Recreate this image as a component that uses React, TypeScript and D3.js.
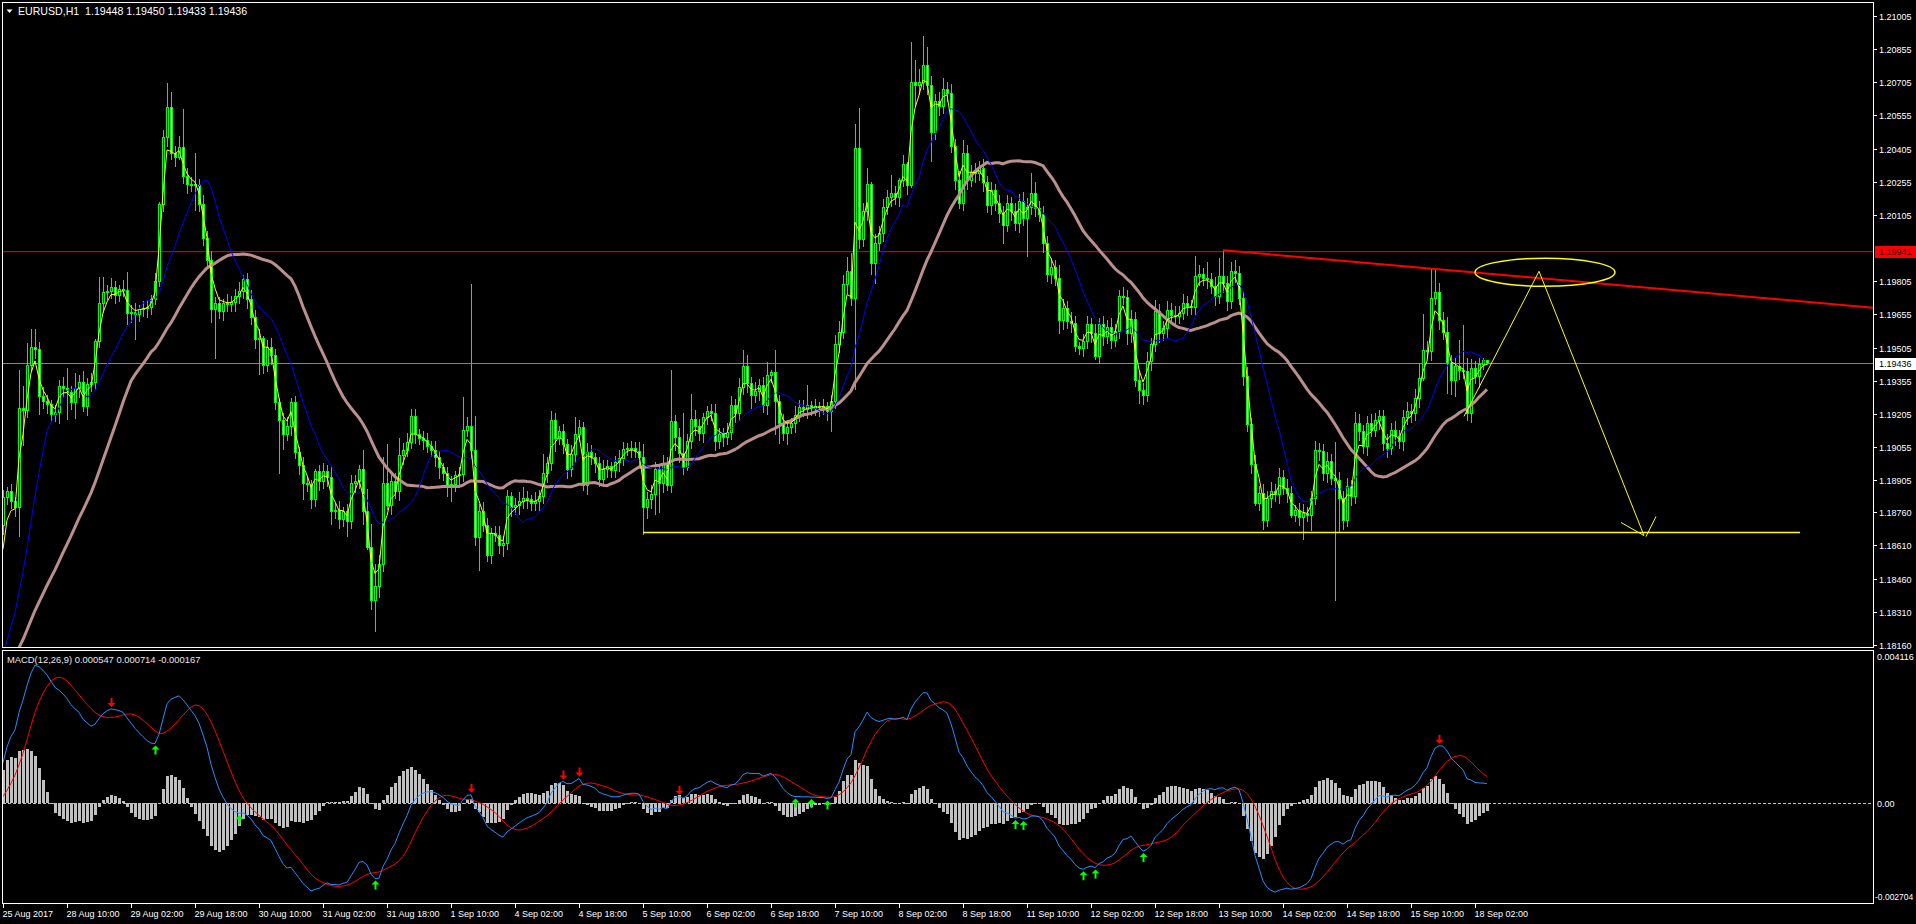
import React from 'react';
import * as d3 from 'd3';

const W = 1916;
const H = 924;

// closes of the bars before the visible window (only their effect on the averages is visible)
const priorCloses = [
  1.17992, 1.18018, 1.17981, 1.18003,
  1.18012, 1.17985, 1.17968, 1.1799, 1.18021, 1.18005, 1.17978, 1.17962, 1.1799, 1.18034,
  1.18015, 1.17996, 1.18008, 1.17975, 1.17958, 1.17982, 1.18004, 1.18026, 1.17998, 1.1797,
  1.17985, 1.1801, 1.18032, 1.18006, 1.17987, 1.17964, 1.1794, 1.17995, 1.18045, 1.18704,
];

const closes = [
  1.18829, 1.18856, 1.18811, 1.18784, 1.19232, 1.19223, 1.19428, 1.19509, 1.195, 1.19285,
  1.19262, 1.19249, 1.19205, 1.19214, 1.1933, 1.19321, 1.19303, 1.19258, 1.19321, 1.19351,
  1.1924, 1.19339, 1.19348, 1.19536, 1.19706, 1.19756, 1.1976, 1.19778, 1.19745, 1.19769,
  1.19767, 1.19661, 1.19667, 1.19656, 1.19679, 1.19685, 1.19688, 1.19724, 1.19804, 1.20153,
  1.20458, 1.20592, 1.20386, 1.20368, 1.20413, 1.20279, 1.20246, 1.20243, 1.20239, 1.20153,
  1.20001, 1.19903, 1.19679, 1.19706, 1.1967, 1.19706, 1.19702, 1.19709, 1.19738, 1.1976,
  1.19813, 1.19724, 1.19643, 1.19545, 1.19548, 1.19428, 1.19509, 1.1947, 1.19258, 1.19178,
  1.19115, 1.19151, 1.19258, 1.19035, 1.18972, 1.18891, 1.18886, 1.1882, 1.18945, 1.189,
  1.18945, 1.18918, 1.18766, 1.18772, 1.1873, 1.18766, 1.18721, 1.18891, 1.189, 1.18954,
  1.18766, 1.18605, 1.18363, 1.18426, 1.18525, 1.18891, 1.18793, 1.189, 1.18856, 1.19017,
  1.19044, 1.19079, 1.19196, 1.19115, 1.19097, 1.19088, 1.19061, 1.19044, 1.19008, 1.18963,
  1.18936, 1.18882, 1.18886, 1.18927, 1.18933, 1.19133, 1.19151, 1.19044, 1.1865, 1.18766,
  1.18704, 1.18569, 1.18668, 1.18659, 1.18614, 1.18623, 1.18832, 1.18784, 1.18793, 1.18811,
  1.18825, 1.1882, 1.18802, 1.18811, 1.18832, 1.18936, 1.18981, 1.19178, 1.19097, 1.1913,
  1.1907, 1.18954, 1.19026, 1.19112, 1.19148, 1.18882, 1.19035, 1.19008, 1.18981, 1.18909,
  1.18958, 1.18968, 1.1895, 1.18986, 1.19004, 1.19047, 1.19053, 1.19049, 1.19038, 1.19008,
  1.18784, 1.1882, 1.18843, 1.18958, 1.18891, 1.18981, 1.18882, 1.19172, 1.19101, 1.19029,
  1.18963, 1.19083, 1.19183, 1.19151, 1.19119, 1.1919, 1.19219, 1.19208, 1.19083, 1.19112,
  1.19101, 1.19122, 1.19244, 1.19208, 1.19326, 1.19423, 1.19343, 1.19291, 1.19309, 1.19334,
  1.19244, 1.1938, 1.19393, 1.19262, 1.19165, 1.19119, 1.19148, 1.19165, 1.19201, 1.19237,
  1.19226, 1.19244, 1.19232, 1.19241, 1.19235, 1.19241, 1.19219, 1.19262, 1.19523, 1.19577,
  1.19792, 1.19853, 1.19727, 1.20408, 1.19996, 1.20121, 1.20246, 1.19888, 1.19978, 1.20025,
  1.20139, 1.20186, 1.20204, 1.20186, 1.20264, 1.20336, 1.20239, 1.20705, 1.20694, 1.20705,
  1.20783, 1.20694, 1.20479, 1.20622, 1.20597, 1.20676, 1.20658, 1.20418, 1.20264, 1.20157,
  1.20383, 1.20264, 1.203, 1.20293, 1.20318, 1.20252, 1.2015, 1.20216, 1.20157, 1.20114,
  1.2006, 1.20157, 1.20121, 1.20068, 1.20168, 1.20089, 1.20141, 1.20205, 1.20138, 1.20107,
  1.19978, 1.19837, 1.1987, 1.1982, 1.19631, 1.19686, 1.19625, 1.19616, 1.19511, 1.19505,
  1.19535, 1.1961, 1.19571, 1.19465, 1.1961, 1.19556, 1.19598, 1.19541, 1.1958, 1.19737,
  1.19734, 1.19571, 1.19636, 1.1936, 1.19315, 1.19292, 1.19444, 1.1952, 1.19671, 1.19571,
  1.19595, 1.19677, 1.19654, 1.19647, 1.19663, 1.19707, 1.19692, 1.19689, 1.19828, 1.19837,
  1.1982, 1.19813, 1.19782, 1.19737, 1.19828, 1.19797, 1.19716, 1.19852, 1.19843, 1.19731,
  1.19375, 1.19158, 1.18977, 1.18801, 1.18847, 1.18726, 1.18826, 1.18856, 1.18841, 1.18922,
  1.18871, 1.18847, 1.1875, 1.18771, 1.18741, 1.18756, 1.1875, 1.18826, 1.19043, 1.19037,
  1.18937, 1.18992, 1.18916, 1.18904, 1.18826, 1.18726, 1.18877, 1.18832, 1.19164, 1.19127,
  1.19058, 1.19164, 1.19133, 1.19179, 1.19194, 1.19073, 1.19052, 1.19133, 1.19103, 1.19082,
  1.19191, 1.19218, 1.19209, 1.19278, 1.19369, 1.19496, 1.19489, 1.19731, 1.19757, 1.19628,
  1.19575, 1.1944, 1.19357, 1.1942, 1.19405, 1.19399, 1.19209, 1.19414, 1.19375, 1.19429,
  1.19448, 1.19436,
];

// upper / lower shadow lengths in pips (0.0001)
const wickUpPips = [
  3, 2, 3, 2, 17, 10, 10, 8, 8, 3, 4, 3, 2, 3, 3, 4, 9, 3, 7, 3,
  5, 3, 4, 1, 12, 7, 3, 4, 3, 2, 4, 8, 3, 4, 2, 3, 3, 2, 4, 1,
  3, 11, 7, 3, 5, 17, 4, 3, 14, 3, 4, 3, 4, 3, 3, 2, 4, 3, 3, 4,
  2, 3, 4, 3, 4, 1, 3, 4, 3, 2, 3, 4, 2, 3, 2, 4, 3, 2, 1, 3,
  4, 3, 5, 3, 4, 2, 3, 4, 3, 2, 9, 10, 10, 10, 4, 12, 18, 3, 4, 8,
  3, 4, 3, 3, 2, 3, 3, 2, 4, 3, 2, 3, 4, 2, 3, 15, 4, 64, 15, 3,
  4, 3, 2, 3, 4, 3, 3, 2, 3, 4, 5, 3, 2, 4, 3, 9, 3, 4, 3, 2,
  3, 2, 4, 8, 3, 2, 4, 3, 2, 3, 4, 3, 2, 3, 4, 3, 2, 3, 3, 4,
  6, 3, 4, 3, 2, 4, 3, 23, 3, 4, 18, 3, 11, 4, 3, 2, 2, 3, 4, 3,
  3, 4, 4, 3, 4, 7, 5, 3, 4, 3, 4, 6, 1, 10, 3, 4, 3, 2, 4, 3,
  3, 9, 2, 3, 2, 3, 2, 3, 4, 5, 4, 6, 8, 11, 18, 4, 7, 1, 4, 3,
  4, 3, 8, 3, 1, 4, 1, 18, 10, 6, 13, 8, 4, 3, 4, 5, 3, 4, 3, 4,
  6, 4, 3, 4, 3, 4, 3, 4, 3, 4, 3, 4, 3, 4, 3, 4, 4, 9, 5, 3,
  4, 3, 4, 3, 6, 4, 3, 4, 3, 2, 3, 4, 3, 4, 3, 4, 3, 4, 3, 3,
  4, 3, 4, 3, 4, 3, 4, 3, 5, 3, 3, 4, 3, 4, 3, 4, 3, 3, 9, 4,
  3, 7, 3, 4, 8, 12, 3, 4, 5, 3, 3, 4, 3, 4, 3, 4, 3, 4, 3, 4,
  3, 4, 3, 2, 3, 4, 3, 3, 4, 3, 3, 4, 3, 16, 4, 3, 4, 3, 5, 4,
  3, 3, 4, 3, 3, 3, 4, 3, 4, 3, 3, 4, 3, 4, 6, 16, 4, 13, 10, 4,
  4, 7, 3, 4, 12, 20, 6, 4, 3, 3, 1, 0.2,
];
const wickDnPips = [
  4, 3, 3, 4, 13, 16, 3, 3, 4, 8, 3, 4, 3, 3, 5, 4, 12, 3, 7, 4,
  2, 4, 3, 3, 3, 4, 3, 3, 4, 3, 3, 5, 4, 11, 3, 3, 4, 3, 2, 2,
  3, 4, 3, 4, 1, 3, 4, 3, 11, 3, 3, 4, 6, 22, 3, 4, 3, 3, 4, 3,
  3, 4, 3, 4, 16, 4, 3, 4, 3, 24, 7, 3, 4, 3, 4, 7, 3, 4, 3, 4,
  3, 4, 6, 3, 4, 3, 7, 3, 4, 3, 6, 1, 4, 14, 5, 3, 2, 4, 3, 4,
  4, 3, 3, 4, 3, 4, 3, 3, 4, 5, 3, 5, 7, 3, 4, 3, 3, 4, 4, 15,
  3, 3, 4, 3, 4, 5, 3, 4, 3, 4, 3, 4, 3, 3, 4, 3, 4, 3, 6, 3,
  4, 4, 3, 4, 3, 2, 4, 3, 4, 3, 3, 4, 3, 3, 4, 3, 3, 4, 3, 4,
  12, 5, 4, 9, 13, 4, 2, 3, 6, 4, 3, 1, 3, 4, 3, 4, 3, 3, 4, 3,
  4, 3, 3, 4, 3, 3, 4, 6, 3, 4, 3, 4, 3, 15, 9, 3, 5, 3, 4, 3,
  3, 4, 3, 3, 4, 3, 4, 9, 3, 4, 3, 4, 3, 41, 4, 3, 4, 5, 9, 3,
  4, 3, 4, 3, 4, 3, 4, 1, 9, 4, 3, 4, 13, 3, 4, 3, 4, 3, 4, 2,
  3, 4, 3, 4, 3, 4, 3, 4, 3, 4, 8, 3, 4, 3, 4, 3, 17, 3, 4, 3,
  4, 3, 4, 3, 6, 4, 3, 4, 2, 3, 4, 3, 4, 1, 3, 4, 3, 4, 3, 3,
  3, 5, 4, 3, 6, 4, 3, 4, 3, 4, 3, 4, 3, 4, 3, 3, 4, 3, 3, 4,
  3, 4, 3, 4, 3, 4, 4, 3, 4, 3, 4, 3, 4, 1, 3, 4, 3, 4, 3, 4,
  3, 4, 1, 3, 4, 10, 3, 7, 3, 4, 3, 4, 3, 54, 15, 4, 3, 4, 3, 4,
  3, 4, 3, 3, 4, 3, 4, 3, 4, 3, 4, 3, 4, 3, 4, 1, 3, 4, 3, 4,
  3, 14, 6, 7, 4, 3, 3, 4, 3, 5, 2, 0.3,
];

const priceTicks = [
  1.21005, 1.20855, 1.20705, 1.20555, 1.20405, 1.20255, 1.20105, 1.19805, 1.19655, 1.19505,
  1.19355, 1.19205, 1.19055, 1.18905, 1.1876, 1.1861, 1.1846, 1.1831, 1.1816,
];
const timeLabels = [
  '25 Aug 2017', '28 Aug 10:00', '29 Aug 02:00', '29 Aug 18:00', '30 Aug 10:00', '31 Aug 02:00',
  '31 Aug 18:00', '1 Sep 10:00', '4 Sep 02:00', '4 Sep 18:00', '5 Sep 10:00', '6 Sep 02:00',
  '6 Sep 18:00', '7 Sep 10:00', '8 Sep 02:00', '8 Sep 18:00', '11 Sep 10:00', '12 Sep 02:00',
  '12 Sep 18:00', '13 Sep 10:00', '14 Sep 02:00', '14 Sep 18:00', '15 Sep 10:00', '18 Sep 02:00',
];
const timeLabelStep = 16;

const macdTicks = [0.004116, 0, -0.002704];
const macdTickLabels = ['0.004116', '0.00', '-0.002704'];
const redArrowBars = [27, 117, 140, 144, 169, 359];
const greenArrowBars = [38, 59, 93, 198, 202, 206, 253, 255, 270, 273, 285];

const headerText = 'EURUSD,H1  1.19448 1.19450 1.19433 1.19436';
const macdText = 'MACD(12,26,9) 0.000547 0.000714 -0.000167';

const resistancePrice = 1.19941;
const bidPrice = 1.19436;
const supportLine = { fromBar: 160, toBar: 449.25, price: 1.18673 };
const trendLine = { bar1: 305, price1: 1.19945, bar2: 357, price2: 1.19862 };
const projection: [number, number][] = [
  [365.25, 1.19194],
  [384, 1.1985],
  [410.25, 1.18655],
];
const arrowWings: [number, number][][] = [
  [[404.5, 1.18714], [410.25, 1.18655]],
  [[413.25, 1.18741], [410.75, 1.1865]],
];
const ellipseBox = { bar1: 368, bar2: 403, priceTop: 1.19909, priceBottom: 1.19782 };

// ---------- indicators ----------
function ema(arr: number[], n: number) {
  const k = 2 / (n + 1);
  let v = arr[0];
  return arr.map((x, i) => {
    v = i === 0 ? x : v + k * (x - v);
    return v;
  });
}
function sma(arr: number[], n: number) {
  return arr.map((_, i) => (i < n - 1 ? NaN : (d3.mean(arr.slice(i - n + 1, i + 1)) as number)));
}

const all = [...priorCloses, ...closes];
const P = priorCloses.length;
const maFast = ema(all, 3).slice(P);
const maMid = sma(all, 13).slice(P);
const maSlow = sma(all, 34).slice(P);
const e12 = ema(all, 12);
const e26 = ema(all, 26);
const macdAll = e12.map((v, i) => v - e26[i]);
const signalAll = sma(macdAll, 9);
const macdMain = macdAll.slice(P);
const macdSignal = signalAll.slice(P);
const macdHist = macdMain.map((v, i) => v - macdSignal[i]);

const opens = closes.map((c, i) => (i === 0 ? priorCloses[P - 1] : closes[i - 1]));
const highs = closes.map((c, i) => Math.max(c, opens[i]) + wickUpPips[i] * 0.0001);
const lows = closes.map((c, i) => Math.min(c, opens[i]) - wickDnPips[i] * 0.0001);

// ---------- layout ----------
const RIGHT = 1873;
const MAIN_TOP = 2;
const MAIN_BOTTOM = 647;
const MACD_TOP = 650;
const MACD_BOTTOM = 903;

const x = d3.scaleLinear().domain([0, 100]).range([3, 403]);
const y = d3.scaleLinear().domain([1.1816, 1.21005]).range([645, 15.9]);
const ym = d3.scaleLinear().domain([-0.002704, 0.004116]).range([MACD_BOTTOM, MACD_TOP + 2]);

const FONT = 'Liberation Sans, Arial, sans-serif';
const FS = 9;

function lineFor(vals: number[], sc: d3.ScaleLinear<number, number>) {
  return (
    d3
      .line<number>()
      .defined((d) => Number.isFinite(d))
      .x((_, i) => x(i))
      .y((d) => sc(d))(vals) || ''
  );
}

export default function App() {
  const trendSlope = (trendLine.price2 - trendLine.price1) / (trendLine.bar2 - trendLine.bar1);
  const trendEndBar = x.invert(RIGHT);
  const trendEndPrice = trendLine.price1 + trendSlope * (trendEndBar - trendLine.bar1);

  const ex1 = x(ellipseBox.bar1);
  const ex2 = x(ellipseBox.bar2);
  const ey1 = y(ellipseBox.priceTop);
  const ey2 = y(ellipseBox.priceBottom);

  return (
    <div style={{ position: 'fixed', left: 0, top: 0, width: W, height: H, background: '#000' }}>
      <svg width={W} height={H} style={{ display: 'block', background: '#000' }}>
        <defs>
          <clipPath id="mainClip">
            <rect x={3} y={MAIN_TOP + 1} width={RIGHT - 3} height={MAIN_BOTTOM - MAIN_TOP - 1} />
          </clipPath>
          <clipPath id="macdClip">
            <rect x={3} y={MACD_TOP + 1} width={RIGHT - 3} height={MACD_BOTTOM - MACD_TOP - 1} />
          </clipPath>
        </defs>
        <rect x={0} y={0} width={W} height={H} fill="#000" />

        {/* ---------- main panel ---------- */}
        <g clipPath="url(#mainClip)">
          <line x1={3} x2={RIGHT} y1={y(resistancePrice) + 0.5} y2={y(resistancePrice) + 0.5} stroke="#ff0000" strokeWidth={1} />
          <line x1={3} x2={RIGHT} y1={Math.round(y(bidPrice)) + 0.5} y2={Math.round(y(bidPrice)) + 0.5} stroke="#778899" strokeWidth={1} />

          <g shapeRendering="crispEdges">
            {closes.map((c, i) => {
              const o = opens[i];
              const cx = Math.round(x(i));
              const top = Math.round(y(Math.max(o, c)));
              const bot = Math.round(y(Math.min(o, c)));
              const hy = Math.round(y(highs[i]));
              const ly = Math.round(y(lows[i]));
              const h = Math.max(1, bot - top);
              const bull = c >= o;
              return (
                <g key={i}>
                  <rect x={cx} y={hy} width={1} height={Math.max(1, ly - hy + 1)} fill="#00ff00" />
                  <rect x={cx - 1} y={top} width={3} height={h + 1} fill="#00ff00" />
                  {h >= 2 && (
                    <rect x={cx} y={top + 1} width={1} height={h - 1} fill={bull ? '#000000' : '#ffffff'} />
                  )}
                </g>
              );
            })}
          </g>

          <path d={lineFor(maSlow, y)} fill="none" stroke="#bc8f8f" strokeWidth={3} />
          <path d={lineFor(maMid, y)} fill="none" stroke="#0000ff" strokeWidth={1} />
          <path d={lineFor(maFast, y)} fill="none" stroke="#ffff00" strokeWidth={1} />

          {/* drawn objects */}
          <line
            x1={x(trendLine.bar1)}
            y1={y(trendLine.price1)}
            x2={RIGHT}
            y2={y(trendEndPrice)}
            stroke="#ff0000"
            strokeWidth={2}
          />
          <line
            x1={x(supportLine.fromBar)}
            x2={x(supportLine.toBar)}
            y1={Math.round(y(supportLine.price)) + 0.5}
            y2={Math.round(y(supportLine.price)) + 0.5}
            stroke="#ffff00"
            strokeWidth={1.5}
          />
          <path
            d={d3.line<[number, number]>().x((d) => x(d[0])).y((d) => y(d[1]))(projection) || ''}
            fill="none"
            stroke="#ffff00"
            strokeWidth={1}
          />
          {arrowWings.map((seg, k) => (
            <line key={k} x1={x(seg[0][0])} y1={y(seg[0][1])} x2={x(seg[1][0])} y2={y(seg[1][1])} stroke="#ffff00" strokeWidth={1} />
          ))}
          <ellipse
            cx={(ex1 + ex2) / 2}
            cy={(ey1 + ey2) / 2}
            rx={(ex2 - ex1) / 2}
            ry={(ey2 - ey1) / 2}
            fill="none"
            stroke="#ffff00"
            strokeWidth={1.5}
          />
        </g>

        {/* main frame */}
        <rect x={2.5} y={MAIN_TOP + 0.5} width={RIGHT - 2} height={MAIN_BOTTOM - MAIN_TOP} fill="none" stroke="#ffffff" strokeWidth={1} shapeRendering="crispEdges" />

        {/* header */}
        <path d="M6.5,9.5 L12.5,9.5 L9.5,13 Z" fill="#ffffff" />
        <text x={18} y={15} fill="#ffffff" fontFamily={FONT} fontSize={10.6} style={{ whiteSpace: 'pre' }}>
          {headerText}
        </text>

        {/* price axis */}
        {priceTicks.map((p) => {
          const yy = Math.round(y(p)) + 0.5;
          return (
            <g key={p}>
              <line x1={RIGHT} x2={RIGHT + 4} y1={yy} y2={yy} stroke="#ffffff" />
              <text x={1879} y={yy + 3.5} fill="#ffffff" fontFamily={FONT} fontSize={FS}>
                {p.toFixed(5)}
              </text>
            </g>
          );
        })}
        <rect x={1875} y={Math.round(y(resistancePrice)) - 5} width={41} height={12} fill="#ff0000" />
        <text x={1879} y={Math.round(y(resistancePrice)) + 4} fill="#3a0000" fontFamily={FONT} fontSize={FS}>
          {resistancePrice.toFixed(5)}
        </text>
        <rect x={1875} y={Math.round(y(bidPrice)) - 5} width={41} height={12} fill="#ffffff" />
        <text x={1879} y={Math.round(y(bidPrice)) + 4} fill="#000000" fontFamily={FONT} fontSize={FS}>
          {bidPrice.toFixed(5)}
        </text>

        {/* ---------- MACD panel ---------- */}
        <g clipPath="url(#macdClip)">
          <line x1={3} x2={RIGHT} y1={Math.round(ym(0)) + 0.5} y2={Math.round(ym(0)) + 0.5} stroke="#c0c0c0" strokeDasharray="3,2" />
          <g shapeRendering="crispEdges">
            {macdHist.map((v, i) => {
              const cx = Math.round(x(i));
              const y0 = Math.round(ym(0));
              const y1 = Math.round(ym(v));
              return (
                <rect key={i} x={cx - 1} y={Math.min(y0, y1)} width={3} height={Math.max(1, Math.abs(y1 - y0))} fill="#c0c0c0" />
              );
            })}
          </g>
          <path d={lineFor(macdSignal, ym)} fill="none" stroke="#ff0000" strokeWidth={1} />
          <path d={lineFor(macdMain, ym)} fill="none" stroke="#1e90ff" strokeWidth={1} />
          {redArrowBars.map((b) => {
            const cx = x(b) + 0.5;
            const tip = ym(macdMain[b]) - 2;
            return (
              <g key={'r' + b} fill="#ff0000">
                <rect x={cx - 1} y={tip - 9} width={2} height={6} />
                <path d={`M${cx - 4},${tip - 4} L${cx + 4},${tip - 4} L${cx},${tip} Z`} />
              </g>
            );
          })}
          {greenArrowBars.map((b) => {
            const cx = x(b) + 0.5;
            const tip = ym(macdMain[b]) + 2;
            return (
              <g key={'g' + b} fill="#00ff00">
                <rect x={cx - 1} y={tip + 3} width={2} height={6} />
                <path d={`M${cx - 4},${tip + 4} L${cx + 4},${tip + 4} L${cx},${tip} Z`} />
              </g>
            );
          })}
        </g>
        <rect x={2.5} y={MACD_TOP + 0.5} width={RIGHT - 2} height={MACD_BOTTOM - MACD_TOP} fill="none" stroke="#ffffff" strokeWidth={1} shapeRendering="crispEdges" />
        <text x={7} y={663} fill="#e8e8e8" fontFamily={FONT} fontSize={9.4}>
          {macdText}
        </text>
        {macdTicks.map((v, k) => {
          const yy = k === 0 ? 660 : k === 2 ? 900 : Math.round(ym(v)) + 3.5;
          return (
            <text key={k} x={k === 2 ? 1875 : 1877} y={yy} fill="#ffffff" fontFamily={FONT} fontSize={k === 2 ? 8.5 : FS}>
              {macdTickLabels[k]}
            </text>
          );
        })}

        {/* time axis */}
        {timeLabels.map((t, k) => {
          const xx = Math.round(x(k * timeLabelStep)) + 0.5;
          return (
            <g key={t}>
              <line x1={xx} x2={xx} y1={MACD_BOTTOM} y2={MACD_BOTTOM + 5} stroke="#ffffff" />
              <text x={xx - 1} y={917} fill="#ffffff" fontFamily={FONT} fontSize={FS}>
                {t}
              </text>
            </g>
          );
        })}
      </svg>
    </div>
  );
}
